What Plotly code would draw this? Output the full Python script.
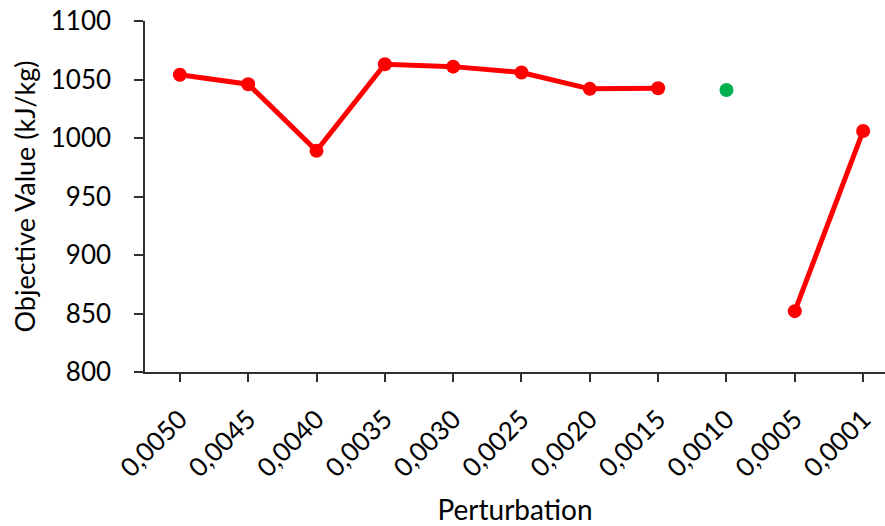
import plotly.graph_objects as go

categories = ["0,0050", "0,0045", "0,0040", "0,0035", "0,0030", "0,0025",
              "0,0020", "0,0015", "0,0010", "0,0005", "0,0001"]
red_values = [1054, 1046, 989, 1063, 1061, 1056, 1042, 1042.5, None, 852, 1006]
green_values = [None, None, None, None, None, None, None, None, 1041, None, None]
y_ticks = [800, 850, 900, 950, 1000, 1050, 1100]

FONT = "Lato, Calibri, 'Noto Sans', sans-serif"

fig = go.Figure()
fig.add_trace(go.Scatter(
    x=categories, y=red_values, mode="lines+markers",
    line=dict(color="#FF0000", width=5),
    marker=dict(color="#FF0000", size=14),
    connectgaps=False, showlegend=False,
))
fig.add_trace(go.Scatter(
    x=categories, y=green_values, mode="markers",
    marker=dict(color="#00B050", size=14),
    showlegend=False,
))

fig.update_layout(
    width=885, height=526,
    margin=dict(l=145, r=0, t=21, b=154),
    paper_bgcolor="white", plot_bgcolor="white",
    font=dict(family=FONT, size=24, color="black"),
)
fig.update_xaxes(
    type="category", range=[-0.51, 10.32],
    showline=True, linecolor="#303030", linewidth=1.5,
    ticks="outside", ticklen=8, tickwidth=1.5, tickcolor="#303030",
    tickangle=-45, showgrid=False, zeroline=False,
    ticklabelstandoff=12,
    tickfont=dict(family=FONT, size=26),
    title=dict(text="Perturbation", font=dict(family=FONT, size=28), standoff=21),
)
fig.update_yaxes(
    range=[800, 1100], tickvals=y_ticks,
    showline=True, linecolor="#303030", linewidth=1.5,
    ticks="outside", ticklen=9, tickwidth=1.5, tickcolor="#303030",
    showgrid=False, zeroline=False,
    ticklabelstandoff=18,
    tickfont=dict(family=FONT, size=26),
    title=dict(text="Objective Value (kJ/kg)", font=dict(family=FONT, size=27), standoff=7),
)

fig.write_html("out.html")
